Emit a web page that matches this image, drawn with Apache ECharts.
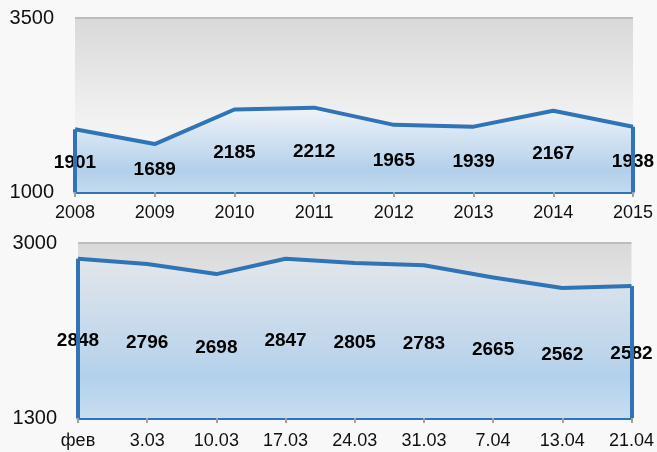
<!DOCTYPE html>
<html>
<head>
<meta charset="utf-8">
<script src="https://cdn.jsdelivr.net/npm/echarts@6/dist/echarts.min.js"></script>
<style>
  html, body { margin: 0; padding: 0; background: #f8f8f8; }
  #chart { width: 657px; height: 452px; }
</style>
</head>
<body>
<div id="chart"></div>
<script>
const years = ['2008', '2009', '2010', '2011', '2012', '2013', '2014', '2015'];
const yearValues = [1901, 1689, 2185, 2212, 1965, 1939, 2167, 1938];
const yearTicks = [1000, 3500];

const weeks = ['фев', '3.03', '10.03', '17.03', '24.03', '31.03', '7.04', '13.04', '21.04'];
const weekValues = [2848, 2796, 2698, 2847, 2805, 2783, 2665, 2562, 2582];
const weekTicks = [1300, 3000];

const BLUE = '#2f74b7';
const FONT = 'Liberation Sans';

const grids = [
  { left: 75, right: 24, top: 18, height: 174 },
  { left: 78, right: 24, top: 243, height: 175 },
];

const plotBg = new echarts.graphic.LinearGradient(0, 0, 0, 1, [
  { offset: 0, color: '#d9d9d9' },
  { offset: 0.6, color: '#f2f2f2' },
  { offset: 1, color: '#fafafa' },
]);

// Excel puts area labels halfway between the line and the axis
function withLabels(values, ticks, h) {
  return values.map(v => ({
    value: v,
    label: { offset: [0, (v - ticks[0]) / (ticks[1] - ticks[0]) * h / 2 + 2] },
  }));
}

function panel(idx, cats, values, ticks, areaColors) {
  const last = cats.length - 1;
  return {
    type: 'line',
    xAxisIndex: idx,
    yAxisIndex: idx,
    data: withLabels(values, ticks, grids[idx].height),
    symbol: 'circle',
    symbolSize: 0,
    lineStyle: { color: BLUE, width: 4, join: 'round' },
    itemStyle: { color: BLUE },
    areaStyle: {
      opacity: 1,
      color: new echarts.graphic.LinearGradient(0, 0, 0, 1, areaColors),
    },
    label: {
      show: true,
      position: 'inside',
      color: '#000',
      fontFamily: FONT,
      fontWeight: 'bold',
      fontSize: 19,
    },
    markLine: {
      silent: true,
      symbol: 'none',
      label: { show: false },
      lineStyle: { color: BLUE, width: 4, type: 'solid' },
      data: [
        [{ coord: [cats[0], ticks[0]] }, { coord: [cats[0], values[0]] }],
        [{ coord: [cats[last], ticks[0]] }, { coord: [cats[last], values[last]] }],
        { yAxis: ticks[1], lineStyle: { color: '#bdbdbd', width: 2 } },
      ],
    },
  };
}

function xAxis(idx, cats, margin) {
  return {
    type: 'category',
    gridIndex: idx,
    data: cats,
    boundaryGap: false,
    axisLine: { lineStyle: { color: BLUE, width: 3 } },
    axisTick: { show: true, length: 5, lineStyle: { color: '#a0a0a0', width: 2 } },
    axisLabel: { color: '#111', fontFamily: FONT, fontSize: 18, margin: margin, interval: 0 },
  };
}

function yAxis(idx, ticks) {
  return {
    type: 'value',
    gridIndex: idx,
    min: ticks[0],
    max: ticks[1],
    splitLine: { show: false },
    axisLine: { show: false },
    axisTick: { show: false },
    axisLabel: {
      customValues: ticks,
      formatter: v => String(v),
      color: '#111',
      fontFamily: FONT,
      fontSize: 20,
      margin: 21,
      padding: [6, 0, 0, 0],
    },
  };
}

const chart = echarts.init(document.getElementById('chart'));
chart.setOption({
  backgroundColor: '#f8f8f8',
  animation: false,
  grid: grids.map(g => Object.assign({ show: true, borderWidth: 0, backgroundColor: plotBg }, g)),
  xAxis: [xAxis(0, years, 12), xAxis(1, weeks, 14)],
  yAxis: [yAxis(0, yearTicks), yAxis(1, weekTicks)],
  series: [
    panel(0, years, yearValues, yearTicks, [
      { offset: 0, color: '#f0f3f8' },
      { offset: 0.75, color: '#b2d0eb' },
      { offset: 1, color: '#c4daf0' },
    ]),
    panel(1, weeks, weekValues, weekTicks, [
      { offset: 0, color: '#e3e6eb' },
      { offset: 0.75, color: '#b3d1ec' },
      { offset: 1, color: '#c8ddf1' },
    ]),
  ],
});
</script>
</body>
</html>
